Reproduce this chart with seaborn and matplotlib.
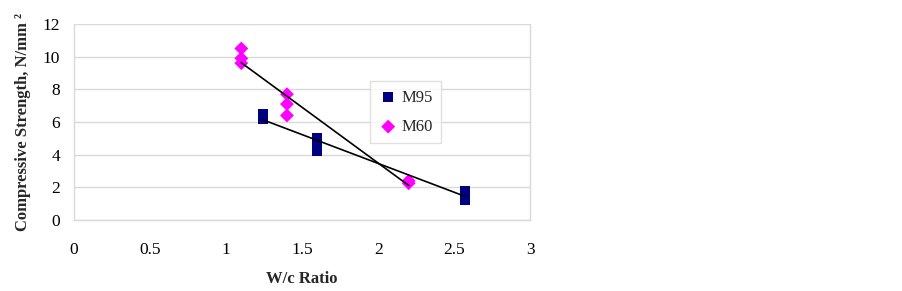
import seaborn as sns
import pandas as pd
import numpy as np
from matplotlib import pyplot as plt

### data

m95_wc = [1.24, 1.24, 1.6, 1.6, 1.6, 2.57, 2.57, 2.57]
m95_strength = [6.5, 6.2, 5.0, 4.85, 4.2, 1.8, 1.5, 1.2]

m60_wc = [1.1, 1.1, 1.1, 1.4, 1.4, 1.4, 2.2, 2.2]
m60_strength = [10.5, 9.9, 9.6, 7.7, 7.1, 6.4, 2.4, 2.25]

x_ticks = [0, 0.5, 1, 1.5, 2, 2.5, 3]
y_ticks = [0, 2, 4, 6, 8, 10, 12]

df95 = pd.DataFrame({'wc': m95_wc, 'strength': m95_strength})
df60 = pd.DataFrame({'wc': m60_wc, 'strength': m60_strength})

# ---------------------------------------- #

sns.set_style('white')
plt.rcParams['font.family'] = ['Liberation Serif', 'DejaVu Serif']

fig = plt.figure(figsize=(9.02, 2.91), dpi=100)
ax = fig.add_axes([0.082, 0.244, 0.506, 0.6735])

for y in y_ticks:
    ax.axhline(y, color='#d9d9d9', lw=1, zorder=0)

sns.regplot(data=df95, x='wc', y='strength', ax=ax, ci=None, scatter=False,
            truncate=True, line_kws={'color': 'black', 'lw': 1.2, 'zorder': 3})
sns.regplot(data=df60, x='wc', y='strength', ax=ax, ci=None, scatter=False,
            truncate=True, line_kws={'color': 'black', 'lw': 1.2, 'zorder': 3})

sns.scatterplot(data=df95, x='wc', y='strength', ax=ax, marker='s', s=50,
                color='#000080', edgecolor='none', label='M95', zorder=2)
sns.scatterplot(data=df60, x='wc', y='strength', ax=ax, marker='D', s=50,
                color='#ff00ff', edgecolor='none', label='M60', zorder=2)

ax.set_xlim(0, 3)
ax.set_ylim(0, 12)
ax.set_xticks(x_ticks)
ax.set_xticklabels(['0', '0.5', '1', '1.5', '2', '2.5', '3'])
ax.set_yticks(y_ticks)
ax.tick_params(axis='both', labelsize=12.5, colors='black')
ax.tick_params(axis='x', direction='out', length=4, color='#bfbfbf', pad=12)
ax.tick_params(axis='y', direction='out', length=4, color='#bfbfbf', pad=6)

ax.set_xlabel('W/c Ratio', fontsize=12, fontweight='bold', labelpad=9)
ax.set_ylabel('Compressive Strength, N/mm \u00b2', fontsize=12, fontweight='bold', labelpad=8)

for s in ['left', 'bottom', 'right']:
    ax.spines[s].set_color('#d9d9d9')
    ax.spines[s].set_linewidth(1)
ax.spines['top'].set_visible(False)

leg = ax.legend(loc='upper left', bbox_to_anchor=(0.63, 0.75), fontsize=12,
                frameon=True, fancybox=False, edgecolor='#d9d9d9',
                handletextpad=0.2, borderpad=0.5, labelspacing=0.8,
                handlelength=1.2)
leg.get_frame().set_linewidth(1)

fig.savefig('out.png', dpi=100)
